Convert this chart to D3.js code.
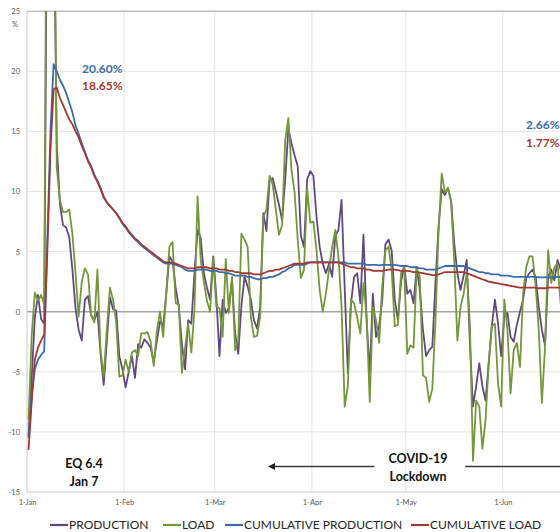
<!DOCTYPE html>
<html>
<head>
<meta charset="utf-8">
<script src="https://cdn.jsdelivr.net/npm/d3@7"></script>
<style>
  body { margin: 0; background: #fff; }
  svg { display: block; font-family: Lato, "Open Sans", sans-serif; }
</style>
</head>
<body>
<svg id="chart"></svg>
<script>
var width  = 560,
    height = 532;

// ====================== data (daily, starting 1-Jan-2020) ======================
var startDate = "2020-01-01";

var production = [
  -10.3, -5.5, -0.5, 1.4, -0.6, -1.0, 40, 45, 35, 14,
  9.0, 7.2, 7.0, 6.2, 3.5, 0.3, -1.5, -2.4, 1.0, 1.3,
  -0.3, -0.7, 0.0, -3.5, -6.1, -2.5, 1.2, 0.2, 0.1, -3.7,
  -4.8, -6.3, -5.0, -3.7, -5.5, -2.7, -3.0, -2.3, -2.6, -3.0,
  -4.2, -2.4, -0.8, -1.2, 1.5, 4.6, 4.2, 2.0, 0.4, -2.7,
  -4.8, -0.7, -1.0, 3.2, 6.8, 6.1, 3.2, 2.0, 1.0, 4.6,
  1.2, -3.7, 1.0, -0.1, 0.3, 2.6, -1.8, -3.5, 0.5, 2.9,
  2.1, 1.0, -0.7, -1.4, 0.4, 8.2, 6.7, 10.9, 11.1, 10.0,
  8.9, 7.6, 11.0, 15.2, 14.0, 13.0, 12.1, 6.3, 5.4, 11.0,
  11.7, 11.3, 7.9, 5.4, 4.0, 3.2, 4.0, 2.9, 6.3, 6.8,
  9.3, 2.0, -5.1, 0.7, 2.9, 3.2, 0.7, 6.4, -0.7, -5.1,
  1.5, -2.1, -1.2, 1.0, 5.6, 6.0, 5.1, 1.0, -0.7, 2.5,
  3.8, 1.5, 1.8, 0.7, 3.7, 1.8, -1.5, -3.7, -3.2, -2.9,
  2.4, 7.1, 10.2, 9.7, 10.3, 9.2, 5.7, 3.2, 1.8, 3.0,
  4.3, -2.6, -7.9, -6.2, -4.3, -6.2, -7.4, -4.3, -1.2, 1.0,
  -1.0, -3.7, -0.4, -0.1, -2.1, -2.5, -1.1, 0.0, 1.0, 2.8,
  3.2, 3.5, 2.9, 0.4, -1.5, -2.8, 2.9, 3.5, 2.6, 4.3,
  3.5, 2.5, 3.5, 2.0
];

var load = [
  -9.0, -2.0, 1.6, 0.9, 1.4, 0.6, 50, 55, 45, 12,
  9.3, 8.3, 8.3, 8.5, 6.5, 3.2, -0.4, 2.5, 3.6, 3.1,
  -0.25, -0.9, 3.5, -3.2, -5.4, -1.5, 2.0, 1.0, -0.9, -5.4,
  -5.3, -4.0, -5.0, -3.4, -3.2, -3.7, -1.8, -1.8, -1.7, -2.5,
  -4.5, -1.6, 0.0, -2.1, 1.5, 5.4, 5.8, 0.7, 0.6, -5.1,
  -3.0, -1.0, -3.4, 0.1, 9.6, 4.3, 2.5, 0.9, 0.0, 4.5,
  0.4, 0.3, -2.1, 4.4, -0.1, 2.9, -3.2, -2.4, 6.5, 6.0,
  5.4, -0.4, -2.1, -2.0, -0.4, 7.9, 8.5, 11.3, 10.6, 8.5,
  6.4, 7.2, 14.3, 16.1, 11.8, 9.9, 6.0, 2.8, 3.5, 10.3,
  7.4, 7.5, 5.1, 1.8, 0.0, 1.5, 3.5, 5.4, 6.8, 4.6,
  0.4, -7.9, -6.2, 1.0, 0.7, -0.5, -1.8, 2.4, -0.4, -7.5,
  0.4, -0.7, -2.6, 2.1, 5.1, 5.4, 3.5, -1.2, -1.1, 3.2,
  3.7, -3.5, -2.8, -3.0, 3.6, 2.9, -5.3, -5.5, -7.5, -6.4,
  -0.7, 6.8, 11.5, 9.9, 10.3, 9.2, 4.3, -2.4, 0.4, 1.5,
  3.3, -1.0, -12.4, -7.4, -7.9, -11.4, -9.0, -4.3, -1.2, -1.0,
  -6.0, -7.9, 1.0, -1.5, -6.8, -3.2, -2.6, -4.6, 1.5, 3.7,
  4.6, 4.6, 2.2, -1.5, -7.6, -3.0, 5.1, 2.4, 3.7, 4.0,
  0.7, 3.0, 1.5, 3.0
];

var cumProduction = [
  -10.5, -7.0, -4.8, -4.0, -3.6, -3.3, 6.0, 15.0, 20.6, 20.0,
  19.3, 18.8, 18.2, 17.4, 16.6, 15.5, 14.8, 14.0, 13.3, 12.6,
  12.1, 11.4, 10.9, 10.3, 9.6, 9.1, 8.8, 8.5, 8.2, 7.8,
  7.3, 7.0, 6.6, 6.3, 6.0, 5.8, 5.5, 5.3, 5.1, 4.9,
  4.7, 4.5, 4.3, 4.1, 4.0, 4.0, 4.0, 3.9, 3.8, 3.7,
  3.5, 3.4, 3.4, 3.4, 3.5, 3.5, 3.5, 3.5, 3.4, 3.4,
  3.4, 3.3, 3.3, 3.2, 3.2, 3.1, 3.0, 3.0, 3.0, 3.0,
  2.9, 2.9, 2.8, 2.7, 2.7, 2.8, 2.8, 2.9, 2.9, 3.0,
  3.1, 3.3, 3.4, 3.6, 3.7, 3.9, 3.9, 3.9, 3.9, 4.0,
  4.1, 4.1, 4.1, 4.1, 4.1, 4.1, 4.1, 4.1, 4.1, 4.1,
  4.1, 4.1, 4.0, 4.0, 4.0, 4.0, 4.0, 4.0, 3.9, 3.9,
  3.9, 3.9, 3.85, 3.9, 3.9, 3.9, 3.9, 3.9, 3.85, 3.8,
  3.8, 3.8, 3.7, 3.7, 3.7, 3.6, 3.6, 3.5, 3.5, 3.5,
  3.5, 3.6, 3.7, 3.8, 3.8, 3.8, 3.8, 3.8, 3.8, 3.8,
  3.7, 3.6, 3.5, 3.4, 3.3, 3.3, 3.2, 3.2, 3.1, 3.1,
  3.1, 3.0, 3.0, 3.0, 2.95, 2.9, 2.9, 2.9, 2.9, 2.9,
  2.9, 2.9, 2.9, 2.85, 2.85, 2.85, 2.85, 2.85, 2.85, 2.9,
  2.9, 2.8, 2.75, 2.7
];

var cumLoad = [
  -11.5, -7.5, -4.0, -3.0, -2.4, -1.9, 5.0, 13.5, 18.5, 18.65,
  17.8, 17.2, 16.6, 16.0, 15.6, 15.0, 14.5, 13.8, 13.2, 12.5,
  12.0, 11.3, 10.8, 10.2, 9.5, 9.1, 8.8, 8.5, 8.2, 7.8,
  7.4, 7.1, 6.7, 6.4, 6.1, 5.9, 5.6, 5.4, 5.2, 5.0,
  4.8, 4.6, 4.4, 4.2, 4.1, 4.1, 4.1, 4.0, 3.9, 3.8,
  3.7, 3.6, 3.6, 3.6, 3.7, 3.7, 3.7, 3.7, 3.6, 3.6,
  3.6, 3.5, 3.5, 3.5, 3.4, 3.4, 3.3, 3.3, 3.2, 3.2,
  3.2, 3.2, 3.1, 3.1, 3.1, 3.2, 3.3, 3.4, 3.4, 3.5,
  3.5, 3.6, 3.7, 3.8, 3.9, 4.0, 4.0, 4.0, 4.0, 4.1,
  4.1, 4.1, 4.1, 4.1, 4.1, 4.1, 4.1, 4.1, 4.1, 4.1,
  4.0, 3.9, 3.8, 3.7, 3.7, 3.6, 3.6, 3.6, 3.5, 3.5,
  3.4, 3.4, 3.4, 3.4, 3.45, 3.5, 3.5, 3.5, 3.45, 3.4,
  3.4, 3.4, 3.35, 3.3, 3.3, 3.25, 3.2, 3.15, 3.1, 3.05,
  3.05, 3.1, 3.2, 3.3, 3.3, 3.3, 3.3, 3.3, 3.3, 3.3,
  3.2, 3.1, 3.0, 2.9, 2.8, 2.7, 2.6, 2.5, 2.45, 2.4,
  2.35, 2.3, 2.25, 2.2, 2.15, 2.1, 2.05, 2.0, 2.0, 2.0,
  2.0, 2.0, 2.0, 1.95, 1.95, 1.95, 2.0, 2.0, 2.0, 2.0,
  2.0, 1.95, 1.9, 1.85
];

var yTicks      = [-15, -10, -5, 0, 5, 10, 15, 20, 25];
var monthTicks  = ["2020-01-01", "2020-02-01", "2020-03-01", "2020-04-01", "2020-05-01", "2020-06-01"];
var seriesNames = ["PRODUCTION", "LOAD", "CUMULATIVE PRODUCTION", "CUMULATIVE LOAD"];
var colors      = ["#5f4a80", "#76963a", "#3a6ca8", "#a33733"];

// peak / latest values written on the chart
var peakLabels   = ["20.60%", "18.65%"];
var latestLabels = ["2.66%", "1.77%"];

// ====================== scales ======================
var parse = d3.utcParse("%Y-%m-%d");
var day0  = parse(startDate);
//daily values sit in the middle of their day
var dayDate = function(i){ return d3.utcHour.offset(d3.utcDay.offset(day0, i), 12); };

var x = d3.scaleUtc()
    .domain([day0, parse("2020-07-01")])
    .range([27, 27 + 182 * 3.13]);

var y = d3.scaleLinear()
    .domain([-15, 25])
    .range([492, 11.2]);

var svg = d3.select("#chart")
    .attr("width", width)
    .attr("height", height);

svg.append("defs").append("clipPath")
    .attr("id", "plotClip")
    .append("rect")
    .attr("x", 27).attr("y", y(25))
    .attr("width", 700).attr("height", y(-15) - y(25));

// ====================== gridlines & axes ======================
var grid = svg.append("g");

grid.selectAll(".hgrid")
    .data(yTicks.filter(function(d){ return d != -15 && d != 0 && d != 25; }))
    .enter().append("line")
    .attr("x1", 27).attr("x2", width)
    .attr("y1", function(d){ return y(d); })
    .attr("y2", function(d){ return y(d); })
    .attr("stroke", "#e4e4e4").attr("stroke-width", 1);

grid.selectAll(".vgrid")
    .data(monthTicks.slice(1))
    .enter().append("line")
    .attr("x1", function(d){ return x(parse(d)); })
    .attr("x2", function(d){ return x(parse(d)); })
    .attr("y1", y(25)).attr("y2", y(-15))
    .attr("stroke", "#e4e4e4").attr("stroke-width", 1);

// top edge, zero line, left and bottom axis lines
grid.append("line").attr("x1", 27).attr("x2", width).attr("y1", y(25)).attr("y2", y(25))
    .attr("stroke", "#a0a0a0").attr("stroke-width", 1);
grid.append("line").attr("x1", 27).attr("x2", width).attr("y1", y(0)).attr("y2", y(0))
    .attr("stroke", "#a6a6a6").attr("stroke-width", 1.5);
grid.append("line").attr("x1", 27).attr("x2", width).attr("y1", y(-15)).attr("y2", y(-15))
    .attr("stroke", "#c8c8c8").attr("stroke-width", 1);
grid.append("line").attr("x1", 27).attr("x2", 27).attr("y1", y(25)).attr("y2", y(-15))
    .attr("stroke", "#c8c8c8").attr("stroke-width", 1);

var yAxis = svg.append("g")
    .attr("transform", "translate(27,0)")
    .call(d3.axisLeft(y).tickValues(yTicks).tickSize(0).tickPadding(7)
        .tickFormat(function(d){ return String(d); }));
yAxis.select(".domain").remove();
yAxis.selectAll("text").attr("font-size", 7.5).attr("fill", "#595959")
    .attr("font-family", "Lato, sans-serif");

var xAxis = svg.append("g")
    .attr("transform", "translate(0," + y(-15) + ")")
    .call(d3.axisBottom(x).tickValues(monthTicks.map(parse)).tickSize(0).tickPadding(8)
        .tickFormat(d3.utcFormat("%-d-%b")));
xAxis.select(".domain").remove();
xAxis.selectAll("text").attr("font-size", 7.5).attr("fill", "#595959")
    .attr("font-family", "Lato, sans-serif");

svg.append("text")
    .attr("x", 15).attr("y", 27)
    .attr("text-anchor", "middle")
    .attr("font-size", 7.5).attr("fill", "#595959")
    .text("%");

// ====================== series lines ======================
var line = d3.line()
    .x(function(d, i){ return x(dayDate(i)); })
    .y(function(d){ return y(d); });

var plot = svg.append("g").attr("clip-path", "url(#plotClip)");

[production, load, cumProduction, cumLoad].forEach(function(series, k){
    plot.append("path")
        .datum(series)
        .attr("d", line)
        .attr("fill", "none")
        .attr("stroke", colors[k])
        .attr("stroke-width", 1.8)
        .attr("stroke-linejoin", "round");
});

// ====================== annotations ======================
var notes = svg.append("g").attr("font-weight", "bold");

notes.append("text").attr("x", 82).attr("y", 73).attr("font-size", 12)
    .attr("fill", colors[2]).text(peakLabels[0]);
notes.append("text").attr("x", 82).attr("y", 90).attr("font-size", 12)
    .attr("fill", colors[3]).text(peakLabels[1]);
notes.append("text").attr("x", 526).attr("y", 129).attr("font-size", 12)
    .attr("fill", colors[2]).text(latestLabels[0]);
notes.append("text").attr("x", 526).attr("y", 146.5).attr("font-size", 12)
    .attr("fill", colors[3]).text(latestLabels[1]);

var eq = notes.append("text").attr("text-anchor", "middle").attr("font-size", 12.5).attr("fill", "#111");
eq.append("tspan").attr("x", 84).attr("y", 468).text("EQ 6.4");
eq.append("tspan").attr("x", 84).attr("y", 486).text("Jan 7");

var covid = notes.append("text").attr("text-anchor", "middle").attr("font-size", 12.5).attr("fill", "#111");
covid.append("tspan").attr("x", 418).attr("y", 463).text("COVID-19");
covid.append("tspan").attr("x", 418).attr("y", 481).text("Lockdown");

// lockdown arrow (left) and bar (right)
var arrowY = 466.5,
    arrowTip = x(parse("2020-03-18")),
    arrowEnd = x(parse("2020-04-21"));

svg.append("line")
    .attr("x1", arrowTip + 5).attr("x2", arrowEnd)
    .attr("y1", arrowY).attr("y2", arrowY)
    .attr("stroke", "#3a3a3a").attr("stroke-width", 1.5);
svg.append("path")
    .attr("d", "M" + arrowTip + "," + arrowY + "l7,-3.5l0,7z")
    .attr("fill", "#222");
svg.append("line")
    .attr("x1", x(parse("2020-05-20"))).attr("x2", width)
    .attr("y1", arrowY).attr("y2", arrowY)
    .attr("stroke", "#3a3a3a").attr("stroke-width", 1.5);

// ====================== legend ======================
var legendX = [50, 163, 225, 411];

var legend = svg.append("g")
    .selectAll("g")
    .data(seriesNames).enter()
    .append("g")
    .attr("transform", function(d, i){ return "translate(" + legendX[i] + ",525)"; });

legend.append("line")
    .attr("x1", 0).attr("x2", 18)
    .attr("stroke", function(d, i){ return colors[i]; })
    .attr("stroke-width", 2.2);

legend.append("text")
    .attr("x", 19).attr("y", 4.3)
    .attr("font-size", 12).attr("fill", "#262626")
    .text(function(d){ return d; });
</script>
</body>
</html>
